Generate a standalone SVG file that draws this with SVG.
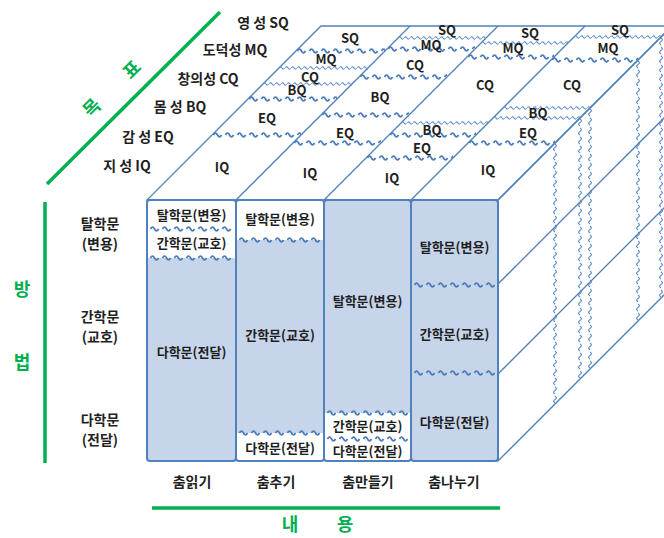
<svg xmlns="http://www.w3.org/2000/svg" width="664" height="538" viewBox="0 0 664 538">
<defs>
<style>
.t{font-family:'Noto Sans CJK KR','Noto Sans',sans-serif;font-weight:bold;fill:#1f1f1f;text-anchor:middle}
.s13{font-size:13px}
.s14{font-size:14px}
.g{font-family:'Noto Sans CJK KR','Noto Sans',sans-serif;font-weight:bold;fill:#00B050;font-size:18px;text-anchor:middle}
.ln{stroke:#4F81BD;stroke-width:1.3;fill:none}
.col{stroke:#4F81BD;stroke-width:2;fill:none}
.blue{fill:#C6D5EA}
.wb{fill:url(#wb)}
.wt{fill:url(#wt)}
.wv{fill:url(#wv)}
</style>
<pattern id="wb" patternUnits="userSpaceOnUse" x="0" y="-4" width="12" height="8">
<path d="M1.5 4 q2 -3.6 4 0 t4 0" fill="none" stroke="#4A7CBB" stroke-width="1.8"/>
</pattern>
<pattern id="wt" patternUnits="userSpaceOnUse" x="0" y="-3" width="6" height="6">
<path d="M0.5 3 q1.25 -2.4 2.5 0 t2.5 0" fill="none" stroke="#5F8CC6" stroke-width="1.1"/>
</pattern>
<pattern id="wv" patternUnits="userSpaceOnUse" x="0" y="-3" width="9" height="6">
<path d="M1 3 q1.75 -2.8 3.5 0 t3.5 0" fill="none" stroke="#5F8CC6" stroke-width="1.2"/>
</pattern>
</defs>
<rect width="664" height="538" fill="#ffffff"/>

<g id="axis-goal">
<line x1="220" y1="12" x2="47" y2="184" stroke="#00B050" stroke-width="3.5"/>
<text class="g" x="92" y="114" transform="rotate(-45 92 108)">목</text>
<text class="g" x="132" y="76" transform="rotate(-45 132 70)">표</text>
<text class="t s14" x="263" y="28">영 성 SQ</text>
<text class="t s14" x="235" y="55">도덕성 MQ</text>
<text class="t s14" x="208" y="84">창의성 CQ</text>
<text class="t s14" x="180" y="112">몸 성 BQ</text>
<text class="t s14" x="148" y="142">감 성 EQ</text>
<text class="t s14" x="127" y="171">지 성 IQ</text>
</g>

<g id="axis-method">
<line x1="45" y1="202" x2="45" y2="463" stroke="#00B050" stroke-width="3.5"/>
<text class="g" x="22" y="296">방</text>
<text class="g" x="22" y="369">법</text>
<text class="t s14" x="100" y="229">탈학문</text>
<text class="t s14" x="100" y="249">(변용)</text>
<text class="t s14" x="100" y="322">간학문</text>
<text class="t s14" x="100" y="342">(교호)</text>
<text class="t s14" x="100" y="425">다학문</text>
<text class="t s14" x="100" y="445">(전달)</text>
</g>

<g id="axis-content">
<text class="t s14" x="192" y="487">춤읽기</text>
<text class="t s14" x="276" y="487">춤추기</text>
<text class="t s14" x="368" y="487">춤만들기</text>
<text class="t s14" x="454" y="487">춤나누기</text>
<line x1="152" y1="508" x2="500" y2="508" stroke="#00B050" stroke-width="3.5"/>
<text class="g" x="290" y="531">내</text>
<text class="g" x="345" y="531">용</text>
</g>

<g id="connectors">
<polygon points="147,200 498,200 672,26 321,26" fill="#ffffff" class="ln"/>
<line class="ln" x1="236" y1="200" x2="410" y2="26"/>
<line class="ln" x1="324" y1="200" x2="498" y2="26"/>
<line class="ln" x1="411" y1="200" x2="585" y2="26"/>
<polygon points="498,200 672,26 672,287 498,461" fill="#ffffff" class="ln"/>
<line class="ln" x1="498" y1="284" x2="672" y2="110"/>
<line class="ln" x1="498" y1="374" x2="672" y2="200"/>
<rect class="wb" transform="translate(212,135)" x="0" y="-4" width="89" height="8"/>
<rect class="wb" transform="translate(248,99)" x="0" y="-4" width="89" height="8"/>
<rect class="wt" transform="translate(263,84)" x="0" y="-3" width="89" height="6"/>
<rect class="wt" transform="translate(279,68)" x="0" y="-3" width="89" height="6"/>
<rect class="wb" transform="translate(296,51)" x="0" y="-4" width="89" height="8"/>
<rect class="wb" transform="translate(293,143)" x="0" y="-4" width="88" height="8"/>
<rect class="wb" transform="translate(321,115)" x="0" y="-4" width="88" height="8"/>
<rect class="wb" transform="translate(359,77)" x="0" y="-4" width="88" height="8"/>
<rect class="wb" transform="translate(387,49)" x="0" y="-4" width="88" height="8"/>
<rect class="wt" transform="translate(398,38)" x="0" y="-3" width="88" height="6"/>
<rect class="wb" transform="translate(366,158)" x="0" y="-4" width="87" height="8"/>
<rect class="wb" transform="translate(389,135)" x="0" y="-4" width="87" height="8"/>
<rect class="wt" transform="translate(401,123)" x="0" y="-3" width="87" height="6"/>
<rect class="wb" transform="translate(467,57)" x="0" y="-4" width="87" height="8"/>
<rect class="wt" transform="translate(481,43)" x="0" y="-3" width="87" height="6"/>
<rect class="wb" transform="translate(468,143)" x="0" y="-4" width="87" height="8"/>
<rect class="wt" transform="translate(493,118)" x="0" y="-3" width="87" height="6"/>
<rect class="wt" transform="translate(503,108)" x="0" y="-3" width="87" height="6"/>
<rect class="wb" transform="translate(551,60)" x="0" y="-4" width="87" height="8"/>
<rect class="wt" transform="translate(574,37)" x="0" y="-3" width="87" height="6"/>
<rect class="wv" transform="translate(555,143) rotate(90)" x="0" y="-3" width="261" height="6"/>
<rect class="wv" transform="translate(580,118) rotate(90)" x="0" y="-3" width="261" height="6"/>
<rect class="wv" transform="translate(590,108) rotate(90)" x="0" y="-3" width="261" height="6"/>
<rect class="wv" transform="translate(638,60) rotate(90)" x="0" y="-3" width="261" height="6"/>
<rect class="wv" transform="translate(661,37) rotate(90)" x="0" y="-3" width="261" height="6"/>
</g>

<g id="top-labels">
<text class="t s13" x="222" y="172">IQ</text>
<text class="t s13" x="267" y="123">EQ</text>
<text class="t s13" x="297" y="95">BQ</text>
<text class="t s13" x="310" y="82">CQ</text>
<text class="t s13" x="326" y="64">MQ</text>
<text class="t s13" x="350" y="43">SQ</text>
<text class="t s13" x="310" y="178">IQ</text>
<text class="t s13" x="345" y="138">EQ</text>
<text class="t s13" x="380" y="102">BQ</text>
<text class="t s13" x="415" y="70">CQ</text>
<text class="t s13" x="431" y="50">MQ</text>
<text class="t s13" x="447" y="35">SQ</text>
<text class="t s13" x="392" y="183">IQ</text>
<text class="t s13" x="422" y="153">EQ</text>
<text class="t s13" x="432" y="135">BQ</text>
<text class="t s13" x="485" y="90">CQ</text>
<text class="t s13" x="513" y="53">MQ</text>
<text class="t s13" x="530" y="38">SQ</text>
<text class="t s13" x="488" y="175">IQ</text>
<text class="t s13" x="528" y="138">EQ</text>
<text class="t s13" x="538" y="118">BQ</text>
<text class="t s13" x="572" y="90">CQ</text>
<text class="t s13" x="608" y="53">MQ</text>
<text class="t s13" x="620" y="35">SQ</text>
</g>

<g id="col-dance-reading">
<rect x="147" y="200" width="89" height="261" fill="#ffffff"/>
<rect class="blue" x="147" y="258" width="89" height="203"/>
<rect class="wb" transform="translate(149,229)" x="0" y="-4" width="85" height="8"/>
<rect class="wb" transform="translate(149,258)" x="0" y="-4" width="85" height="8"/>
<rect class="col" x="147" y="200" width="89" height="261" rx="3"/>
<text class="t s13" x="191.5" y="220">탈학문(변용)</text>
<text class="t s13" x="191.5" y="248">간학문(교호)</text>
<text class="t s13" x="191.5" y="357">다학문(전달)</text>
</g>

<g id="col-dance-doing">
<rect x="236" y="200" width="88" height="261" fill="#ffffff"/>
<rect class="blue" x="236" y="240" width="88" height="193"/>
<rect class="wb" transform="translate(238,240)" x="0" y="-4" width="84" height="8"/>
<rect class="wb" transform="translate(238,433)" x="0" y="-4" width="84" height="8"/>
<rect class="col" x="236" y="200" width="88" height="261" rx="3"/>
<text class="t s13" x="280" y="224">탈학문(변용)</text>
<text class="t s13" x="280" y="340">간학문(교호)</text>
<text class="t s13" x="280" y="453">다학문(전달)</text>
</g>

<g id="col-dance-making">
<rect x="324" y="200" width="87" height="261" fill="#ffffff"/>
<rect class="blue" x="324" y="200" width="87" height="213"/>
<rect class="wb" transform="translate(326,413)" x="0" y="-4" width="83" height="8"/>
<rect class="wb" transform="translate(326,439)" x="0" y="-4" width="83" height="8"/>
<rect class="col" x="324" y="200" width="87" height="261" rx="3"/>
<text class="t s13" x="367.5" y="306">탈학문(변용)</text>
<text class="t s13" x="367.5" y="431">간학문(교호)</text>
<text class="t s13" x="367.5" y="456">다학문(전달)</text>
</g>

<g id="col-dance-sharing">
<rect class="blue" x="411" y="200" width="87" height="261"/>
<rect class="wb" transform="translate(413,285)" x="0" y="-4" width="83" height="8"/>
<rect class="wb" transform="translate(413,373)" x="0" y="-4" width="83" height="8"/>
<rect class="col" x="411" y="200" width="87" height="261" rx="3"/>
<text class="t s13" x="454.5" y="252">탈학문(변용)</text>
<text class="t s13" x="454.5" y="339">간학문(교호)</text>
<text class="t s13" x="454.5" y="427">다학문(전달)</text>
</g>
</svg>
